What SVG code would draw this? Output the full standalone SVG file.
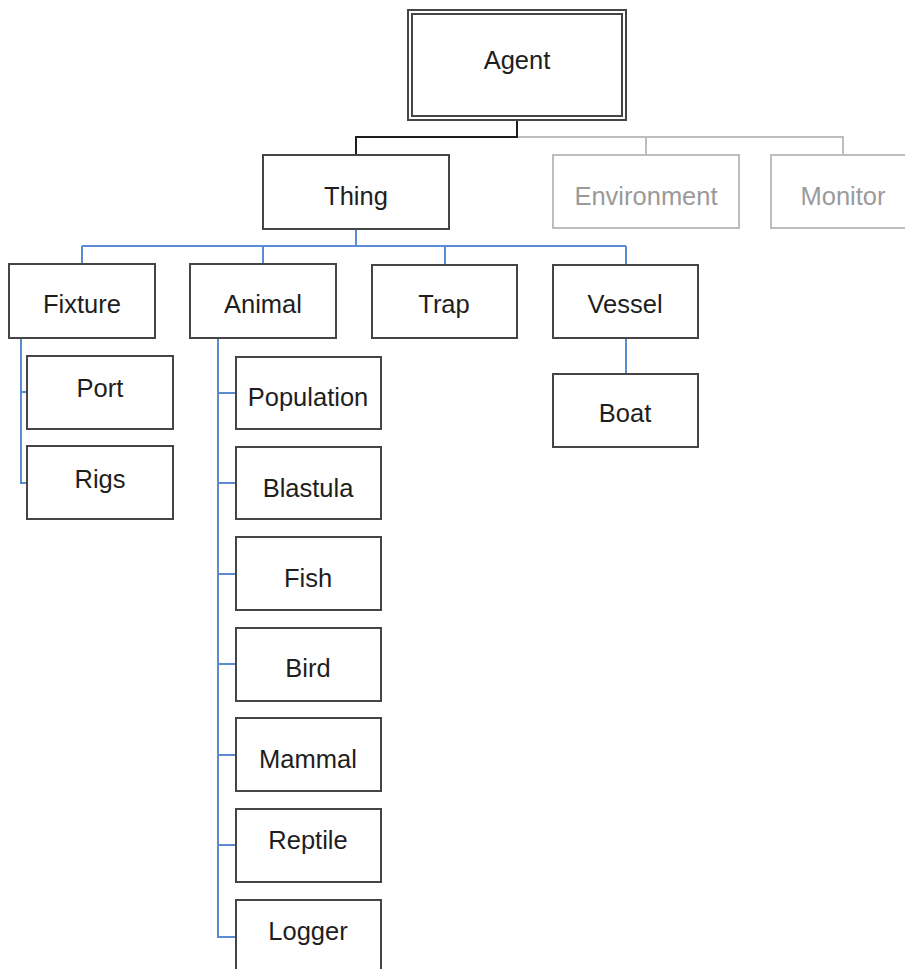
<svg xmlns="http://www.w3.org/2000/svg" width="905" height="969" viewBox="0 0 905 969">
  <style>
    .box { fill: #ffffff; stroke: #454545; stroke-width: 2; }
    .ghost { fill: #ffffff; stroke: #bdbdbd; stroke-width: 2; }
    .lbl { font-family: "Liberation Sans", Arial, sans-serif; font-size: 25.5px; fill: #1e1e1e; text-anchor: middle; }
    .glbl { font-family: "Liberation Sans", Arial, sans-serif; font-size: 25.5px; fill: #9a9a9a; text-anchor: middle; }
    .dark { fill: none; stroke: #1e1e1e; stroke-width: 2; }
    .grey { fill: none; stroke: #bdbdbd; stroke-width: 2; }
    .blue { fill: none; stroke: #5b8bd3; stroke-width: 2; }
  </style>
  <rect width="905" height="969" fill="#ffffff"/>

  <g id="connectors">
    <!-- Agent to Thing -->
    <polyline class="dark" points="517,120 517,137 356,137 356,155"/>
    <!-- Agent to Environment / Monitor -->
    <polyline class="grey" points="518,137 843,137 843,155"/>
    <line class="grey" x1="646" y1="137" x2="646" y2="155"/>
    <!-- Thing to its children -->
    <line class="blue" x1="356" y1="229" x2="356" y2="246"/>
    <line class="blue" x1="82" y1="246" x2="626" y2="246"/>
    <line class="blue" x1="82" y1="246" x2="82" y2="264"/>
    <line class="blue" x1="263" y1="246" x2="263" y2="264"/>
    <line class="blue" x1="445" y1="246" x2="445" y2="265"/>
    <line class="blue" x1="626" y1="246" x2="626" y2="265"/>
    <!-- Fixture children -->
    <polyline class="blue" points="21,338 21,483 27,483"/>
    <line class="blue" x1="21" y1="392" x2="27" y2="392"/>
    <!-- Animal children -->
    <polyline class="blue" points="218,338 218,937 236,937"/>
    <line class="blue" x1="218" y1="393" x2="236" y2="393"/>
    <line class="blue" x1="218" y1="483" x2="236" y2="483"/>
    <line class="blue" x1="218" y1="574" x2="236" y2="574"/>
    <line class="blue" x1="218" y1="664" x2="236" y2="664"/>
    <line class="blue" x1="218" y1="755" x2="236" y2="755"/>
    <line class="blue" x1="218" y1="845" x2="236" y2="845"/>
    <!-- Vessel to Boat -->
    <line class="blue" x1="626" y1="338" x2="626" y2="374"/>
  </g>

  <g id="agent">
    <rect class="box" x="408" y="10" width="218" height="110"/>
    <rect class="box" x="412" y="14" width="210" height="102"/>
    <text class="lbl" x="517" y="69">Agent</text>
  </g>

  <g id="thing">
    <rect class="box" x="263" y="155" width="186" height="74"/>
    <text class="lbl" x="356" y="205">Thing</text>
  </g>
  <g id="environment">
    <rect class="ghost" x="553" y="155" width="186" height="73"/>
    <text class="glbl" x="646" y="205">Environment</text>
  </g>
  <g id="monitor">
    <rect class="ghost" x="771" y="155" width="186" height="73"/>
    <text class="glbl" x="843" y="205">Monitor</text>
  </g>

  <g id="fixture">
    <rect class="box" x="9" y="264" width="146" height="74"/>
    <text class="lbl" x="82" y="313">Fixture</text>
  </g>
  <g id="animal">
    <rect class="box" x="190" y="264" width="146" height="74"/>
    <text class="lbl" x="263" y="313">Animal</text>
  </g>
  <g id="trap">
    <rect class="box" x="372" y="265" width="145" height="73"/>
    <text class="lbl" x="444" y="313">Trap</text>
  </g>
  <g id="vessel">
    <rect class="box" x="553" y="265" width="145" height="73"/>
    <text class="lbl" x="625" y="313">Vessel</text>
  </g>
  <g id="boat">
    <rect class="box" x="553" y="374" width="145" height="73"/>
    <text class="lbl" x="625" y="422">Boat</text>
  </g>

  <g id="port">
    <rect class="box" x="27" y="356" width="146" height="73"/>
    <text class="lbl" x="100" y="397">Port</text>
  </g>
  <g id="rigs">
    <rect class="box" x="27" y="446" width="146" height="73"/>
    <text class="lbl" x="100" y="488">Rigs</text>
  </g>

  <g id="population">
    <rect class="box" x="236" y="357" width="145" height="72"/>
    <text class="lbl" x="308" y="406">Population</text>
  </g>
  <g id="blastula">
    <rect class="box" x="236" y="447" width="145" height="72"/>
    <text class="lbl" x="308" y="497">Blastula</text>
  </g>
  <g id="fish">
    <rect class="box" x="236" y="537" width="145" height="73"/>
    <text class="lbl" x="308" y="587">Fish</text>
  </g>
  <g id="bird">
    <rect class="box" x="236" y="628" width="145" height="73"/>
    <text class="lbl" x="308" y="677">Bird</text>
  </g>
  <g id="mammal">
    <rect class="box" x="236" y="718" width="145" height="73"/>
    <text class="lbl" x="308" y="768">Mammal</text>
  </g>
  <g id="reptile">
    <rect class="box" x="236" y="809" width="145" height="73"/>
    <text class="lbl" x="308" y="849">Reptile</text>
  </g>
  <g id="logger">
    <rect class="box" x="236" y="900" width="145" height="75"/>
    <text class="lbl" x="308" y="940">Logger</text>
  </g>
</svg>
